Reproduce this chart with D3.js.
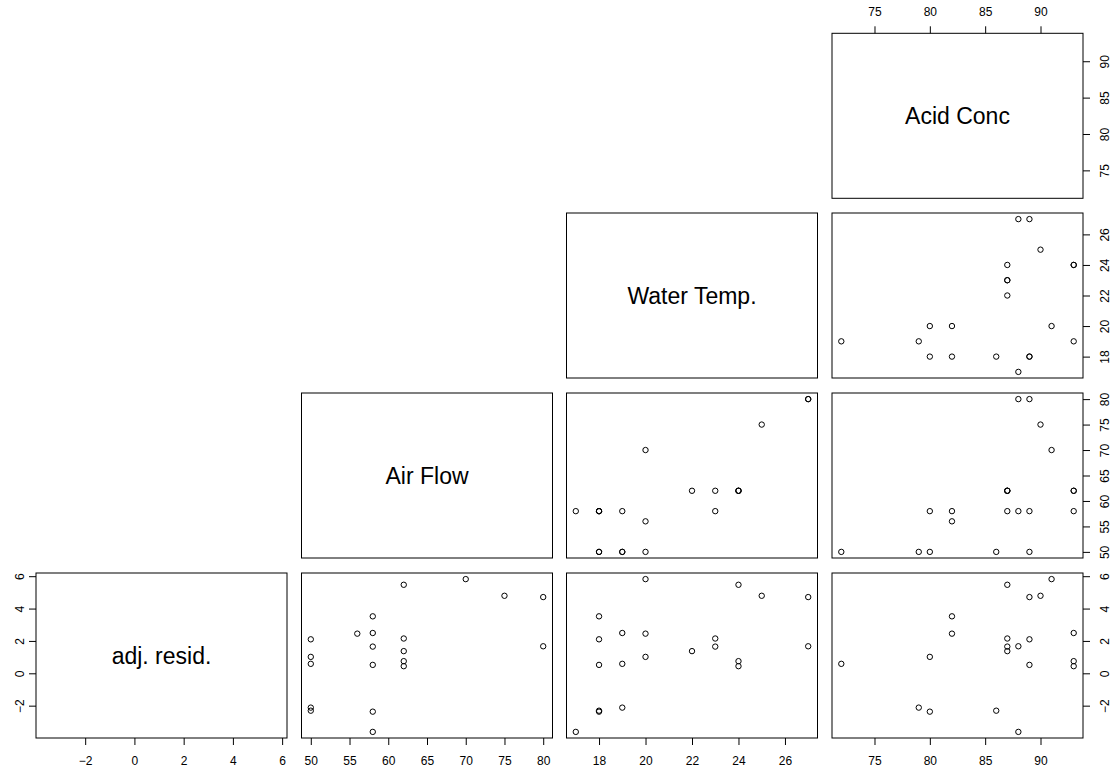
<!DOCTYPE html>
<html>
<head>
<meta charset="utf-8">
<script src="https://cdn.jsdelivr.net/npm/d3@7"></script>
<style>
  html, body { margin: 0; padding: 0; background: #fff; }
  svg { display: block; font-family: "Liberation Sans", Arial, Helvetica, sans-serif; }
</style>
</head>
<body>
<svg id="chart" width="1114" height="769"></svg>
<script>
// Stack loss plant data with adjusted residuals from the fit
const airFlow   = [80, 80, 75, 62, 62, 62, 62, 62, 58, 58, 58, 58, 58, 58, 50, 50, 50, 50, 50, 56, 70];
const waterTemp = [27, 27, 25, 24, 22, 23, 24, 24, 23, 18, 18, 17, 18, 19, 18, 18, 19, 19, 20, 20, 20];
const acidConc  = [89, 88, 90, 87, 87, 87, 93, 93, 87, 80, 89, 88, 82, 93, 89, 86, 72, 79, 80, 82, 91];
const adjResid  = [4.71, 1.67, 4.79, 5.47, 1.37, 2.15, 0.75, 0.44, 1.65, -2.37, 0.52, -3.62, 3.52, 2.49,
                   2.10, -2.31, 0.585, -2.12, 1.015, 2.45, 5.82];

const varNames = ["adj. resid.", "Air Flow", "Water Temp.", "Acid Conc"];
const varData  = [adjResid, airFlow, waterTemp, acidConc];
const varTicks = [
  [-2, 0, 2, 4, 6],
  [50, 55, 60, 65, 70, 75, 80],
  [18, 20, 22, 24, 26],
  [75, 80, 85, 90]
];

// panel grid geometry
const colX = [36, 301.5, 566.5, 832];
const rowY = [33.3, 213, 393, 573];   // top row holds variable 3, bottom row variable 0
const panelW = 251, panelH = 165;

const svg = d3.select("#chart");

// R-style range extension of 4% on each side
function extDomain(v) {
  const [lo, hi] = d3.extent(v);
  const r = hi - lo;
  return [lo - 0.04 * r, hi + 0.04 * r];
}

// column j shows variable j on x; row i (from bottom) shows variable i on y
const xScales = varData.map((v, j) => d3.scaleLinear().domain(extDomain(v)).range([colX[j], colX[j] + panelW]));
// rows: index r = 3 - varIndex
const yScales = varData.map((v, i) => {
  const top = rowY[3 - i];
  return d3.scaleLinear().domain(extDomain(v)).range([top + panelH, top]);
});

const tickLen = 7;

for (let i = 0; i < 4; i++) {          // y variable
  for (let j = 0; j < 4; j++) {        // x variable
    if (j < i) continue;               // only lower-left triangle (anti-diagonal layout)
    const x0 = colX[j], y0 = rowY[3 - i];
    const g = svg.append("g");
    g.append("rect")
      .attr("x", x0).attr("y", y0)
      .attr("width", panelW).attr("height", panelH)
      .attr("fill", "none").attr("stroke", "#000").attr("stroke-width", 1);

    if (i === j) {
      g.append("text")
        .attr("x", x0 + panelW / 2).attr("y", y0 + panelH / 2)
        .attr("text-anchor", "middle").attr("dy", "0.36em")
        .attr("font-size", 23).attr("fill", "#000")
        .text(varNames[i]);
    } else {
      const xs = xScales[j], ys = yScales[i];
      const xv = varData[j], yv = varData[i];
      g.selectAll("circle")
        .data(d3.range(xv.length))
        .join("circle")
        .attr("cx", k => xs(xv[k]))
        .attr("cy", k => ys(yv[k]))
        .attr("r", 2.7)
        .attr("fill", "none")
        .attr("stroke", "#000")
        .attr("stroke-width", 1);
    }
  }
}

function styleAxis(g) {
  g.select(".domain").remove();
  g.selectAll(".tick line").attr("stroke", "#000");
  g.selectAll(".tick text").attr("fill", "#000").attr("font-size", 12);
  g.attr("font-family", null);
}

// bottom axes: every column on the bottom row
for (let j = 0; j < 4; j++) {
  const yb = rowY[3] + panelH;
  svg.append("g")
    .attr("transform", `translate(0,${yb})`)
    .call(d3.axisBottom(xScales[j]).tickValues(varTicks[j]).tickSize(tickLen).tickPadding(11))
    .call(styleAxis);
}

// top axis on the top-right panel
svg.append("g")
  .attr("transform", `translate(0,${rowY[0]})`)
  .call(d3.axisTop(xScales[3]).tickValues(varTicks[3]).tickSize(tickLen).tickPadding(10))
  .call(styleAxis);

// rotated tick labels for vertical axes
function rotateLabels(g, offset) {
  g.selectAll(".tick text")
    .attr("x", null).attr("y", null).attr("dy", "0.35em")
    .attr("text-anchor", "middle")
    .attr("transform", `translate(${offset},0) rotate(-90)`);
}

// left axis on the bottom-left panel
svg.append("g")
  .attr("transform", `translate(${colX[0]},0)`)
  .call(d3.axisLeft(yScales[0]).tickValues(varTicks[0]).tickSize(tickLen))
  .call(styleAxis)
  .call(g => rotateLabels(g, -16));

// right axes on the last column, one per row
for (let i = 0; i < 4; i++) {
  svg.append("g")
    .attr("transform", `translate(${colX[3] + panelW},0)`)
    .call(d3.axisRight(yScales[i]).tickValues(varTicks[i]).tickSize(tickLen))
    .call(styleAxis)
    .call(g => rotateLabels(g, 22));
}
</script>
</body>
</html>
